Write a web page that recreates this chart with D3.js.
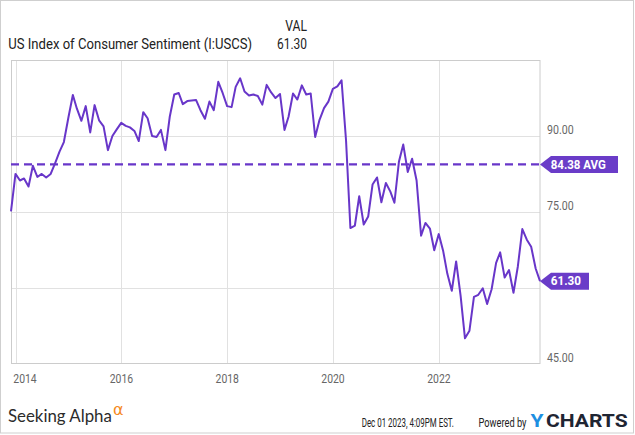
<!DOCTYPE html>
<html>
<head>
<meta charset="utf-8">
<script src="https://cdn.jsdelivr.net/npm/d3@7/dist/d3.min.js"></script>
<style>
  html, body { margin: 0; padding: 0; background: #fff; }
  svg { display: block; font-family: Roboto, "Liberation Sans", sans-serif; }
</style>
</head>
<body>
<svg id="chart" width="635" height="435"></svg>
<script>
// ---- Data (University of Michigan Consumer Sentiment, monthly, Nov 2013 – Nov 2023) ----
const seriesName = "US Index of Consumer Sentiment (I:USCS)";
const startYear = 2013, startMonth = 10; // November 2013 (0-based month)
const sentiment = [
  75.1, 82.5,
  81.2, 81.6, 80.0, 84.1, 81.9, 82.5, 81.8, 82.5, 84.6, 86.9, 88.8, 93.6,
  98.1, 95.4, 93.0, 95.9, 90.7, 96.1, 93.1, 91.9, 87.2, 90.0, 91.3, 92.6,
  92.0, 91.7, 91.0, 89.0, 94.7, 93.5, 90.0, 89.8, 91.2, 87.2, 93.8, 98.2,
  98.5, 96.3, 96.9, 97.0, 97.1, 95.1, 93.4, 96.8, 95.1, 100.7, 98.5, 95.9,
  95.7, 99.7, 101.4, 98.8, 98.0, 98.2, 97.9, 96.2, 100.1, 98.6, 97.5, 98.3,
  91.2, 93.8, 98.4, 97.2, 100.0, 98.2, 98.4, 89.8, 93.2, 95.5, 96.8, 99.3,
  99.8, 101.0, 89.1, 71.8, 72.3, 78.1, 72.5, 74.1, 80.4, 81.8, 76.9, 80.7,
  79.0, 76.8, 84.9, 88.3, 82.9, 85.5, 81.2, 70.3, 72.8, 71.7, 67.4, 70.6,
  67.2, 62.8, 59.4, 65.2, 58.4, 50.0, 51.5, 58.2, 58.6, 59.9, 56.8, 59.7,
  64.9, 67.0, 62.0, 63.5, 59.0, 64.2, 71.6, 69.5, 68.1, 63.8, 61.3
];
const averageValue = 84.38;
const lastValue = 61.30;
const yTicks = [45, 60, 75, 90];
const yTickLabels = [45, 75, 90]; // 60.00 is hidden behind the last-value tag
const xTickYears = [2014, 2016, 2018, 2020, 2022];
const footerDate = "Dec 01 2023, 4:09PM EST.";

// dates: each monthly value is stamped at month end
const points = sentiment.map((v, i) => ({
  date: new Date(startYear, startMonth + i + 1, 0),
  value: v
}));

const svg = d3.select("#chart");
const pL = 11, pR = 540, pT = 60.1, pB = 363.6;

const x = d3.scaleTime()
  .domain([new Date(2013, 10, 30), new Date(2023, 10, 30)])
  .range([pL, pR]);
const y = d3.scaleLinear().domain([45, 105]).range([pB, pT]);

// horizontally condense a text so it spans the given width (narrow font look)
function fit(sel, w) {
  sel.each(function () {
    const n = d3.select(this);
    const tx = +n.attr("x") || 0, ty = +n.attr("y") || 0;
    const natural = this.getComputedTextLength();
    const k = natural > 0 ? w / natural : 1;
    n.attr("x", 0).attr("y", 0)
     .attr("transform", `translate(${tx},${ty}) scale(${k},1)`);
  });
  return sel;
}

// outer frame
svg.append("rect")
  .attr("x", 0.5).attr("y", 0.5).attr("width", 633).attr("height", 432.5)
  .attr("fill", "none").attr("stroke", "#cfcfcf").attr("stroke-width", 1);

// header
fit(svg.append("text").attr("x", 307).attr("y", 31).attr("text-anchor", "end")
  .attr("font-size", 14).attr("fill", "#222").text("VAL"), 21.7);
fit(svg.append("text").attr("x", 8.3).attr("y", 49.3)
  .attr("font-size", 14).attr("fill", "#222").text(seriesName), 244);
fit(svg.append("text").attr("x", 307).attr("y", 49.3).attr("text-anchor", "end")
  .attr("font-size", 14).attr("fill", "#222").text(lastValue.toFixed(2)), 30);

// gridlines
const grid = svg.append("g");
grid.selectAll("line.h").data(yTicks.filter(t => t > 45)).enter().append("line")
  .attr("x1", pL).attr("x2", pR)
  .attr("y1", d => Math.round(y(d)) + 0.5).attr("y2", d => Math.round(y(d)) + 0.5)
  .attr("stroke", "#e1e1e1").attr("stroke-width", 1);
grid.selectAll("line.v").data(xTickYears).enter().append("line")
  .attr("x1", d => Math.round(x(new Date(d, 0, 1))) + 0.5)
  .attr("x2", d => Math.round(x(new Date(d, 0, 1))) + 0.5)
  .attr("y1", pT).attr("y2", pB)
  .attr("stroke", "#e1e1e1").attr("stroke-width", 1);

// plot border
svg.append("rect")
  .attr("x", pL + 0.5).attr("y", Math.round(pT) + 0.5)
  .attr("width", pR - pL - 0.5).attr("height", pB - pT - 0.5)
  .attr("fill", "none").attr("stroke", "#cccccc").attr("stroke-width", 1);

// x axis labels
svg.selectAll("text.xl").data(xTickYears).enter().append("text")
  .attr("class", "xl")
  .attr("x", d => Math.max(x(new Date(d, 0, 1)), 25))
  .attr("y", 383.3)
  .attr("text-anchor", "middle")
  .attr("font-size", 12.5).attr("fill", "#666")
  .text(d => d)
  .call(s => fit(s, 23.4));

// y axis labels (right)
svg.selectAll("text.yl").data(yTickLabels).enter().append("text")
  .attr("class", "yl")
  .attr("x", 547)
  .attr("y", d => y(d) - 2)
  .attr("font-size", 12.5).attr("fill", "#666")
  .text(d => d.toFixed(2))
  .call(s => fit(s, 26.7));

const purple = "#6836c9";

// average dashed line
svg.append("line")
  .attr("x1", pL).attr("x2", pR)
  .attr("y1", y(averageValue)).attr("y2", y(averageValue))
  .attr("stroke", purple).attr("stroke-width", 2.2)
  .attr("stroke-dasharray", "8,5");

// series line
const line = d3.line().x(d => x(d.date)).y(d => y(d.value));
svg.append("path").datum(points)
  .attr("d", line)
  .attr("fill", "none").attr("stroke", purple).attr("stroke-width", 2)
  .attr("stroke-linejoin", "round");

// value tags
function tag(value, label, boxRight, textW) {
  const cy = y(value), h = 8.5;
  svg.append("path")
    .attr("d", `M${pR},${cy} L${pR + 11},${cy - h} L${boxRight},${cy - h} L${boxRight},${cy + h} L${pR + 11},${cy + h} Z`)
    .attr("fill", "#6a3cc8");
  fit(svg.append("text")
    .attr("x", 550.7).attr("y", cy + 4.3)
    .attr("font-size", 12).attr("font-weight", "bold").attr("fill", "#fff")
    .text(label), textW);
}
tag(averageValue, averageValue.toFixed(2) + " AVG", 618, 55.3);
tag(lastValue, lastValue.toFixed(2), 589, 30.3);

// footer
fit(svg.append("text").attr("x", 8).attr("y", 421.7)
  .attr("font-family", "Lato, 'Open Sans', sans-serif")
  .attr("font-size", 16.5).attr("fill", "#2b2b2b").text("Seeking Alpha"), 104);
svg.append("text").attr("x", 113).attr("y", 414.5)
  .attr("font-family", "'DejaVu Sans', sans-serif")
  .attr("font-size", 16).attr("fill", "#f58a1f").text("α");

fit(svg.append("text").attr("x", 361.7).attr("y", 427.3)
  .attr("font-size", 12).attr("fill", "#222").text(footerDate), 92.3);
fit(svg.append("text").attr("x", 478.5).attr("y", 427.3)
  .attr("font-size", 12).attr("fill", "#222").text("Powered by"), 48);
const yc = svg.append("text").attr("x", 530.5).attr("y", 427.3)
  .attr("font-size", 17.5).attr("font-weight", "bold");
yc.append("tspan").attr("fill", "#1d8fe1").text("Y");
yc.append("tspan").attr("fill", "#1f2533").attr("dx", 2).text("CHARTS");
fit(yc, 94.5);
</script>
</body>
</html>
